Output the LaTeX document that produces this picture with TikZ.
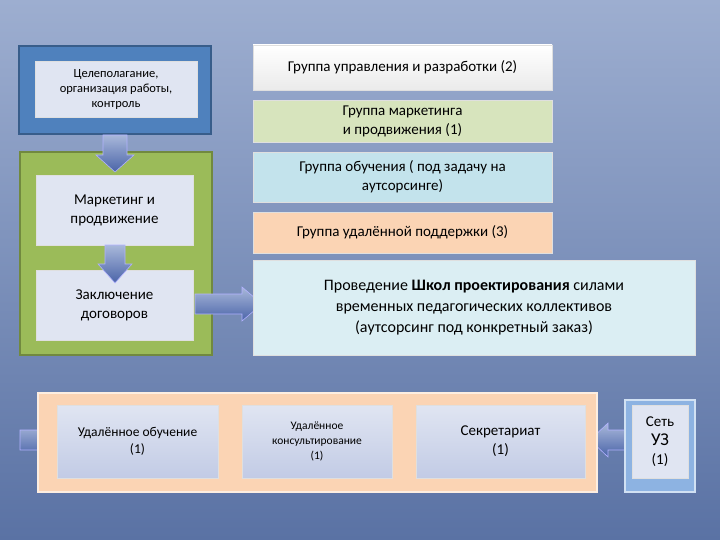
\documentclass[tikz,border=0pt]{standalone}
\usepackage{fontspec}
\setmainfont{Carlito}
\definecolor{bgt}{HTML}{9DAED0}
\definecolor{bgb}{HTML}{5A72A4}
\definecolor{bluebox}{HTML}{4F81BD}
\definecolor{blueedge}{HTML}{385D8A}
\definecolor{greenbox}{HTML}{9BBB59}
\definecolor{greenedge}{HTML}{71893F}
\definecolor{lgreen}{HTML}{D7E4BD}
\definecolor{lblue}{HTML}{C3E3EC}
\definecolor{peach}{HTML}{FBD4B4}
\definecolor{school}{HTML}{DBEEF3}
\definecolor{innt}{HTML}{E0E5F2}
\definecolor{innb}{HTML}{C2CBE5}
\definecolor{netc}{HTML}{8DB3E2}
\definecolor{arrt}{HTML}{A9B8DA}
\definecolor{arrb}{HTML}{4A64A8}
\begin{document}
\begin{tikzpicture}[x=1pt,y=-1pt,
  ibox/.style={draw=white!75!gray,line width=0.8pt,align=center,inner sep=2pt,font=\fontsize{15}{19}\selectfont},
  barr/.style={draw=white!70!blue,line width=0.6pt,top color=arrt,bottom color=arrb},
]
\useasboundingbox (0,0) rectangle (720,540);
\shade[top color=bgt,bottom color=bgb] (0,0) rectangle (720,540);
% blue box
\node[draw=blueedge,line width=2pt,fill=bluebox,minimum width=192,minimum height=88] (bl) at (115,90) {};
\node[ibox,fill=innt,minimum width=162,minimum height=56,font=\fontsize{12.5}{15}\selectfont] (goal) at (116,89) {Целеполагание,\\организация работы,\\контроль};
% green box
\node[draw=greenedge,line width=1.5pt,fill=greenbox,minimum width=192,minimum height=203] (gr) at (116,253.5) {};
\node[ibox,fill=innt,minimum width=157,minimum height=70] (mk) at (114.5,210) {Маркетинг и\\продвижение};
\node[ibox,fill=innt,minimum width=157,minimum height=70] (dg) at (114.5,305) {Заключение\\договоров};
% arrows
\shade[barr] (103,135) -- (127,135) -- (127,155) -- (134,155) -- (115,172) -- (96,155) -- (103,155) -- cycle;
\shade[barr] (105,245) -- (125,245) -- (125,264) -- (132,264) -- (115,283) -- (98,264) -- (105,264) -- cycle;
\shade[barr] (195,294) -- (242,294) -- (242,287) -- (262,304) -- (242,321) -- (242,314) -- (195,314) -- cycle;
\shade[barr] (20,430) -- (38,430) -- (38,423) -- (56,440) -- (38,457) -- (38,450) -- (20,450) -- cycle;
\shade[barr] (626,430) -- (608,430) -- (608,423) -- (590,440) -- (608,457) -- (608,450) -- (626,450) -- cycle;
% right column
\node[ibox,top color=white,bottom color=black!8,minimum width=299,minimum height=45] (g1) at (402.5,67.5) {Группа управления и разработки (2)};
\node[ibox,fill=lgreen,minimum width=299,minimum height=42] (g2) at (402.5,121) {Группа маркетинга\\и продвижения (1)};
\node[ibox,fill=lblue,minimum width=299,minimum height=50] (g3) at (402.5,177) {Группа обучения ( под задачу на\\аутсорсинге)};
\node[ibox,fill=peach,minimum width=299,minimum height=41] (g4) at (402.5,232.5) {Группа удалённой поддержки (3)};
\node[ibox,fill=school,minimum width=442,minimum height=95,font=\fontsize{16}{21}\selectfont] (sch) at (474,307.5) {Проведение \textbf{Школ проектирования} силами\\временных педагогических коллективов\\(аутсорсинг под конкретный заказ)};
% bottom
\node[draw=white!60!peach,line width=1.5pt,fill=peach,minimum width=559,minimum height=99] (bot) at (317.5,442.5) {};
\node[ibox,top color=innt,bottom color=innb,minimum width=161,minimum height=73,font=\fontsize{13.5}{17}\selectfont] (b1) at (137.5,441.5) {Удалённое обучение\\(1)};
\node[ibox,top color=innt,bottom color=innb,minimum width=150,minimum height=73,font=\fontsize{11.5}{15}\selectfont] (b2) at (317,441.5) {Удалённое\\консультирование\\(1)};
\node[ibox,top color=innt,bottom color=innb,minimum width=169,minimum height=73] (b3) at (500.5,441.5) {Секретариат\\(1)};
\node[draw=white!60!netc,line width=1.5pt,fill=netc,minimum width=70,minimum height=92] (net) at (660,446) {};
\node[ibox,fill=innt,minimum width=56,minimum height=73] (nt) at (660,441.5) {Сеть\\{\fontsize{18}{22}\selectfont УЗ}\\(1)};
\end{tikzpicture}
\end{document}
